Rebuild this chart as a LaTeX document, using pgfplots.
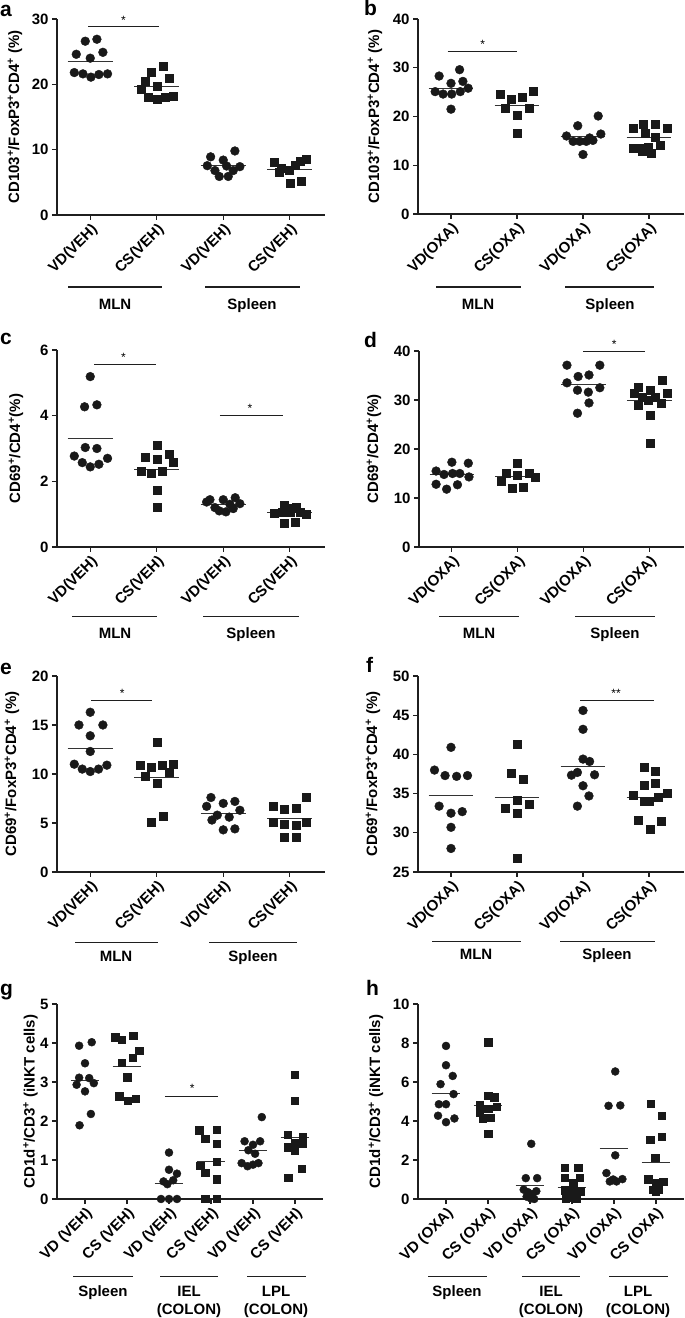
\documentclass[border=0pt]{standalone}
\usepackage{fontspec}
\setmainfont{Liberation Sans}
\usepackage{pgfplots}
\pgfplotsset{compat=1.18}
\usetikzlibrary{calc}
\newcommand{\sps}{\textsuperscript{+}}
\newcommand{\lf}{\fontsize{15}{17}\selectfont\bfseries}
\pgfplotsset{
 panel/.style={
  scale only axis, anchor=south west,
  axis x line*=bottom, axis y line*=left,
  axis line style={line width=1.3pt, black!88},
  every tick/.style={line width=1.2pt, black!88},
  major tick length=5pt, tick align=outside,
  ticklabel style={font=\lf},
  xticklabel style={rotate=45, anchor=north east, inner sep=1.5pt},
  /pgf/number format/assume math mode=true,
  ylabel style={font=\lf, anchor=center},
  clip=false,
 },
 four/.style={xtick={0,1,2,3}, xmin=-0.5, xmax=3.53},
 six/.style={xtick={0,1,2,3,4,5}, xmin=-0.667, xmax=5.667},
 vd/.style={only marks, mark=*, mark size=4.4pt, mark options={fill=black!90, draw=black!90}},
 cs/.style={only marks, mark=square*, mark size=4pt, mark options={fill=black!90, draw=black!90}},
 vds/.style={only marks, mark=*, mark size=4pt, mark options={fill=black!90, draw=black!90}},
 css/.style={only marks, mark=square*, mark size=3.7pt, mark options={fill=black!90, draw=black!90}},
 mean/.style={black!80, line width=1pt, no marks},
}
\tikzset{
 sig/.style={line width=1.2pt, black!88},
 star/.style={anchor=base, inner sep=0pt, font=\fontsize{12}{12}\selectfont},
 grp/.style={line width=1.2pt, black!88},
 gtxt/.style={anchor=base, inner sep=0pt, font=\lf},
 plab/.style={anchor=base west, inner sep=0pt, font=\fontsize{21}{21}\selectfont\bfseries},
}
\begin{document}
\begin{tikzpicture}[x=1pt,y=1pt]
\useasboundingbox (0,0) rectangle (685,1318);

% ---------------- a ----------------
\begin{axis}[panel, four, at={(57pt,1103pt)}, width=268pt, height=196pt,
 ymin=0, ymax=30, ytick={0,10,20,30},
 xticklabels={VD(VEH),CS(VEH),VD(VEH),CS(VEH)},
 ylabel={CD103\sps/FoxP3\sps CD4\sps\ (\%)},
 ylabel style={at={(axis description cs:-0.157,0.5)}}]
\addplot[vd] coordinates {(-0.21,24.6) (-0.075,26.6) (0.1,26.9) (0.19,24.9) (0,24.0) (-0.24,21.8) (-0.11,21.6) (0.01,21.1) (0.13,21.5) (0.26,21.6)};
\addplot[cs] coordinates {(1.09,22.7) (0.91,21.8) (0.82,20.5) (1.18,20.9) (1.0,19.7) (0.76,19.2) (0.875,18.1) (1.0,17.7) (1.13,18.1) (1.25,18.2)};
\addplot[vd] coordinates {(1.81,8.9) (2.0,8.4) (2.175,9.8) (1.76,7.55) (1.875,6.8) (1.94,5.9) (2.075,5.9) (2.15,6.8) (2.25,7.4) (2.05,7.5)};
\addplot[cs] coordinates {(2.77,8.1) (2.87,7.1) (2.99,6.9) (3.075,7.65) (3.16,8.2) (3.25,8.5) (2.84,6.6) (3.01,4.85) (3.17,5.1)};
\addplot[mean] coordinates {(-0.34,23.5) (0.34,23.5)};
\addplot[mean] coordinates {(0.66,19.7) (1.34,19.7)};
\addplot[mean] coordinates {(1.66,7.5) (2.34,7.5)};
\addplot[mean] coordinates {(2.66,7.0) (3.34,7.0)};
\draw[sig] (axis cs:-0.03,28.8) -- (axis cs:1.04,28.8);
\node[star] at (axis cs:0.5,29.2) {*};
\end{axis}

% ---------------- b ----------------
\begin{axis}[panel, four, at={(418pt,1104pt)}, width=266pt, height=195pt,
 ymin=0, ymax=40, ytick={0,10,20,30,40},
 xticklabels={VD(OXA),CS(OXA),VD(OXA),CS(OXA)},
 ylabel={CD103\sps/FoxP3\sps CD4\sps\ (\%)},
 ylabel style={at={(axis description cs:-0.162,0.5)}}]
\addplot[vd] coordinates {(-0.18,28.3) (0.13,29.6) (0,26.8) (0.18,27.2) (0.26,25.8) (-0.24,25.1) (-0.12,24.6) (0.01,24.6) (0.14,25.1) (0,21.5)};
\addplot[cs] coordinates {(0.74,24.5) (0.91,23.6) (1.08,24.0) (1.25,25.1) (0.82,21.8) (1.18,21.8) (1.0,20.3) (1.0,16.5)};
\addplot[vd] coordinates {(1.92,18.1) (2.23,20.1) (1.75,16.0) (2.27,16.4) (1.85,14.9) (1.95,14.9) (2.05,14.9) (2.15,15.1) (2.0,12.2) (2.1,15.6)};
\addplot[cs] coordinates {(2.76,17.7) (2.91,18.5) (3.09,18.5) (3.27,17.5) (2.94,16.6) (3.1,15.8) (2.76,13.4) (2.86,13.4) (2.98,13.8) (3.17,14.1) (3.03,12.5) (2.89,12.8)};
\addplot[mean] coordinates {(-0.34,25.8) (0.34,25.8)};
\addplot[mean] coordinates {(0.66,22.2) (1.34,22.2)};
\addplot[mean] coordinates {(1.66,15.8) (2.34,15.8)};
\addplot[mean] coordinates {(2.66,15.6) (3.34,15.6)};
\draw[sig] (axis cs:-0.05,33.4) -- (axis cs:1.0,33.4);
\node[star] at (axis cs:0.48,34.0) {*};
\end{axis}

% ---------------- c ----------------
\begin{axis}[panel, four, at={(57pt,771pt)}, width=268pt, height=197pt,
 ymin=0, ymax=6, ytick={0,2,4,6},
 xticklabels={VD(VEH),CS(VEH),VD(VEH),CS(VEH)},
 ylabel={CD69\sps/CD4\sps(\%)},
 ylabel style={at={(axis description cs:-0.153,0.5)}}]
\addplot[vd] coordinates {(0,5.19) (-0.085,4.27) (0.1,4.33) (-0.075,3.03) (0.1,3.0) (-0.24,2.77) (0.26,2.70) (-0.12,2.57) (0,2.44) (0.13,2.52)};
\addplot[cs] coordinates {(1,3.10) (0.82,2.72) (1,2.67) (1.18,2.83) (1.25,2.57) (0.76,2.32) (0.92,2.26) (1.085,2.30) (1,1.73) (1,1.21)};
\addplot[vd] coordinates {(1.8,1.44) (2,1.44) (2.18,1.50) (1.75,1.37) (2.25,1.32) (1.875,1.2) (1.94,1.1) (2.04,1.07) (2.15,1.17) (2.1,1.3)};
\addplot[cs] coordinates {(2.92,1.27) (3.1,1.22) (2.77,1.02) (2.885,1.07) (3,1.07) (3.16,1.07) (3.25,1.0) (2.92,0.73) (3.085,0.76) (3.035,1.17)};
\addplot[mean] coordinates {(-0.34,3.3) (0.34,3.3)};
\addplot[mean] coordinates {(0.66,2.37) (1.34,2.37)};
\addplot[mean] coordinates {(1.66,1.28) (2.34,1.28)};
\addplot[mean] coordinates {(2.66,1.05) (3.34,1.05)};
\draw[sig] (axis cs:0.06,5.56) -- (axis cs:0.99,5.56);
\node[star] at (axis cs:0.5,5.66) {*};
\draw[sig] (axis cs:1.95,4.0) -- (axis cs:2.9,4.0);
\node[star] at (axis cs:2.4,4.1) {*};
\end{axis}

% ---------------- d ----------------
\begin{axis}[panel, four, at={(419pt,771pt)}, width=265pt, height=196pt,
 ymin=0, ymax=40, ytick={0,10,20,30,40},
 xticklabels={VD(OXA),CS(OXA),VD(OXA),CS(OXA)},
 ylabel={CD69\sps/CD4\sps(\%)},
 ylabel style={at={(axis description cs:-0.17,0.5)}}]
\addplot[vd] coordinates {(0,17.3) (0.25,17.1) (-0.24,15.5) (-0.12,14.8) (0.01,15.0) (0.12,15.0) (-0.24,12.8) (-0.08,11.8) (0.085,12.7) (0.26,14.3)};
\addplot[cs] coordinates {(1,17.1) (0.82,15.0) (1,14.6) (1.18,15.0) (0.75,13.5) (1.26,14.3) (0.915,11.9) (1.085,12.2)};
\addplot[vd] coordinates {(1.75,37.1) (2.25,37.1) (1.92,34.8) (2.085,35.1) (1.75,33.5) (1.91,32.0) (2.075,31.6) (2.25,32.5) (2.085,29.4) (1.91,27.3)};
\addplot[cs] coordinates {(3.2,34.0) (2.83,32.7) (3.02,32.0) (2.78,31.3) (3.27,31.3) (2.89,30.6) (3.09,30.6) (2.83,28.9) (3.19,29.3) (3.02,26.9) (3.02,21.1) (2.98,29.9)};
\addplot[mean] coordinates {(-0.34,14.7) (0.34,14.7)};
\addplot[mean] coordinates {(0.66,14.3) (1.34,14.3)};
\addplot[mean] coordinates {(1.66,33.1) (2.34,33.1)};
\addplot[mean] coordinates {(2.66,29.8) (3.34,29.8)};
\draw[sig] (axis cs:2.0,39.85) -- (axis cs:2.93,39.85);
\node[star] at (axis cs:2.47,40.5) {*};
\end{axis}

% ---------------- e ----------------
\begin{axis}[panel, four, at={(57pt,446pt)}, width=268pt, height=196pt,
 ymin=0, ymax=20, ytick={0,5,10,15,20},
 xticklabels={VD(VEH),CS(VEH),VD(VEH),CS(VEH)},
 ylabel={CD69\sps/FoxP3\sps CD4\sps\ (\%)},
 ylabel style={at={(axis description cs:-0.168,0.5)}}]
\addplot[vd] coordinates {(0,16.3) (-0.17,15.0) (0.19,15.0) (0,13.9) (0,12.3) (-0.24,11.0) (0.25,10.9) (-0.12,10.5) (0,10.25) (0.125,10.5)};
\addplot[cs] coordinates {(1,13.2) (0.75,10.9) (0.91,10.7) (1.085,10.9) (1.25,11.0) (1.18,10.15) (0.82,9.75) (1,9.07) (1.09,5.67) (0.91,5.1)};
\addplot[vd] coordinates {(1.815,7.6) (2,7.0) (2.175,7.2) (1.75,6.7) (2.25,6.3) (1.91,5.8) (2.09,5.6) (1.83,5.3) (2,4.3) (2.175,4.4)};
\addplot[cs] coordinates {(3.25,7.6) (2.75,6.75) (2.92,6.4) (3.09,6.55) (2.75,5.1) (2.92,4.9) (3.09,4.75) (3.25,5.05) (2.92,3.5) (3.09,3.6)};
\addplot[mean] coordinates {(-0.34,12.6) (0.34,12.6)};
\addplot[mean] coordinates {(0.66,9.65) (1.34,9.65)};
\addplot[mean] coordinates {(1.66,6.0) (2.34,6.0)};
\addplot[mean] coordinates {(2.66,5.43) (3.34,5.43)};
\draw[sig] (axis cs:0.015,17.5) -- (axis cs:0.93,17.5);
\node[star] at (axis cs:0.48,17.8) {*};
\end{axis}

% ---------------- f ----------------
\begin{axis}[panel, four, at={(418pt,446pt)}, width=266pt, height=196pt,
 ymin=25, ymax=50, ytick={25,30,35,40,45,50},
 xticklabels={VD(OXA),CS(OXA),VD(OXA),CS(OXA)},
 ylabel={CD69\sps/FoxP3\sps CD4\sps\ (\%)},
 ylabel style={at={(axis description cs:-0.169,0.5)}}]
\addplot[vd] coordinates {(0,40.9) (-0.25,38.0) (-0.09,37.3) (0.085,37.2) (0.25,37.3) (-0.18,33.4) (0,32.5) (0.17,32.7) (0,30.7) (0,28.0)};
\addplot[cs] coordinates {(1,41.3) (0.915,37.6) (1.09,36.8) (1,34.2) (0.82,33.1) (1.18,33.7) (1,32.5) (1,26.7)};
\addplot[vd] coordinates {(2,45.6) (2,43.2) (2,39.4) (2.1,39.1) (1.825,37.35) (1.915,37.7) (2.175,37.4) (2,36.0) (2.09,34.7) (1.915,33.4)};
\addplot[cs] coordinates {(2.92,38.4) (3.09,37.9) (2.92,36.1) (3.09,36.3) (2.76,34.8) (3.27,35.0) (2.92,34.0) (3.0,34.0) (3.14,34.6) (2.84,31.6) (3.19,31.5) (3.02,30.5)};
\addplot[mean] coordinates {(-0.34,34.8) (0.34,34.8)};
\addplot[mean] coordinates {(0.66,34.55) (1.34,34.55)};
\addplot[mean] coordinates {(1.66,38.4) (2.34,38.4)};
\addplot[mean] coordinates {(2.66,34.55) (3.34,34.55)};
\draw[sig] (axis cs:1.96,46.85) -- (axis cs:3.08,46.85);
\node[star] at (axis cs:2.5,47.2) {**};
\end{axis}

% ---------------- g ----------------
\begin{axis}[panel, six, at={(57pt,119pt)}, width=266pt, height=195pt,
 ymin=0, ymax=5, ytick={0,1,2,3,4,5},
 xticklabels={VD (VEH),CS (VEH),VD (VEH),CS (VEH),VD (VEH),CS (VEH)},
 ylabel={CD1d\sps/CD3\sps\ (iNKT cells)},
 ylabel style={at={(axis description cs:-0.10,0.5)}}]
\addplot[vds] coordinates {(-0.14,3.93) (0.16,4.02) (0,3.48) (-0.14,3.11) (0.1,3.10) (-0.2,2.93) (0.21,2.97) (0,2.76) (0.14,2.18) (-0.13,1.89)};
\addplot[css] coordinates {(0.72,4.15) (0.87,4.08) (1.15,4.18) (1.29,3.80) (1.13,3.63) (0.87,3.50) (1.0,3.12) (0.81,2.64) (1.01,2.52) (1.2,2.57)};
\addplot[vds] coordinates {(1.87,0.45) (1.96,0.38) (2.1,0.48) (2.19,0.65) (2,0.75) (2,1.19) (1.81,0) (2,0) (2.19,0)};
\addplot[css] coordinates {(2.72,1.76) (3.13,1.78) (2.86,1.54) (3.13,1.42) (2.74,0.85) (3.13,0.95) (2.86,0.68) (3.13,0.51) (2.86,0) (3.13,0)};
\addplot[vds] coordinates {(4.21,2.1) (3.8,1.48) (4.0,1.39) (4.17,1.48) (3.89,1.25) (3.73,0.92) (3.87,0.84) (4.0,0.88) (4.13,0.92) (4.05,1.16)};
\addplot[css] coordinates {(5.0,3.18) (5.0,2.52) (4.82,1.65) (5.18,1.6) (4.82,1.33) (5.0,1.43) (5.18,1.43) (5.0,1.24) (5.16,0.78) (4.84,0.54)};
\addplot[mean] coordinates {(-0.34,3.05) (0.34,3.05)};
\addplot[mean] coordinates {(0.66,3.41) (1.34,3.41)};
\addplot[mean] coordinates {(1.66,0.41) (2.34,0.41)};
\addplot[mean] coordinates {(2.66,0.95) (3.34,0.95)};
\addplot[mean] coordinates {(3.66,1.25) (4.34,1.25)};
\addplot[mean] coordinates {(4.66,1.58) (5.34,1.58)};
\draw[sig] (axis cs:1.9,2.63) -- (axis cs:3.17,2.63);
\node[star] at (axis cs:2.55,2.72) {*};
\end{axis}

% ---------------- h ----------------
\begin{axis}[panel, six, at={(418pt,119pt)}, width=266pt, height=195pt,
 ymin=0, ymax=10, ytick={0,2,4,6,8,10},
 xticklabels={VD (OXA),CS (OXA),VD (OXA),CS (OXA),VD (OXA),CS (OXA)},
 ylabel={CD1d\sps/CD3\sps\ (iNKT cells)},
 ylabel style={at={(axis description cs:-0.158,0.5)}}]
\addplot[vds] coordinates {(0,7.85) (0,6.86) (-0.13,5.89) (0.16,6.31) (0.18,5.38) (-0.17,4.86) (0,4.86) (-0.19,4.27) (0,3.94) (0.2,4.13)};
\addplot[css] coordinates {(1,8.04) (0.8,4.81) (1,5.3) (1.15,5.22) (0.8,4.44) (1,4.62) (1.2,4.74) (0.87,4.15) (1.07,4.18) (1,3.36)};
\addplot[vds] coordinates {(2.03,2.83) (1.9,1.07) (2.17,1.07) (1.85,0.48) (1.95,0.35) (2.05,0.25) (2.15,0.4) (1.92,0.12) (2.02,0.03) (2.1,0.0)};
\addplot[css] coordinates {(2.83,1.6) (3.15,1.6) (2.83,1.1) (3.19,1.1) (3.03,0.8) (2.83,0.45) (3.03,0.35) (3.2,0.4) (2.95,0.1) (3.1,0.05) (2.85,0.02)};
\addplot[vds] coordinates {(4.03,6.54) (3.87,4.78) (4.15,4.8) (4.03,2.24) (3.82,1.33) (3.9,0.9) (4.06,0.9) (4.2,1.02) (3.98,1.0)};
\addplot[css] coordinates {(4.87,4.88) (5.14,4.27) (5.13,3.21) (4.86,3.04) (4.98,2.13) (4.81,1.02) (5.17,0.9) (5.0,0.82) (4.92,0.48) (5.05,0.48) (5.0,0.4)};
\addplot[mean] coordinates {(-0.34,5.43) (0.34,5.43)};
\addplot[mean] coordinates {(0.66,4.8) (1.34,4.8)};
\addplot[mean] coordinates {(1.66,0.68) (2.34,0.68)};
\addplot[mean] coordinates {(2.66,0.6) (3.34,0.6)};
\addplot[mean] coordinates {(3.66,2.61) (4.34,2.61)};
\addplot[mean] coordinates {(4.66,1.88) (5.34,1.88)};
\end{axis}

% ---------------- group labels ----------------
\draw[grp] (68,1031) -- (162,1031); \node[gtxt] at (115,1008) {MLN};
\draw[grp] (205,1031) -- (300,1031); \node[gtxt] at (252,1008) {Spleen};
\draw[grp] (436,1031) -- (521,1031); \node[gtxt] at (478,1008) {MLN};
\draw[grp] (565,1031) -- (654,1031); \node[gtxt] at (610,1008) {Spleen};
\draw[grp] (72,701.3) -- (157,701.3); \node[gtxt] at (115,679.7) {MLN};
\draw[grp] (203,701.3) -- (299,701.3); \node[gtxt] at (251,679.7) {Spleen};
\draw[grp] (439,701.3) -- (519,701.3); \node[gtxt] at (479,679.7) {MLN};
\draw[grp] (575,701.3) -- (655,701.3); \node[gtxt] at (615,679.7) {Spleen};
\draw[grp] (75,375.3) -- (158,375.3); \node[gtxt] at (116,356.3) {MLN};
\draw[grp] (209,375.3) -- (297,375.3); \node[gtxt] at (253,356.3) {Spleen};
\draw[grp] (432,376.3) -- (521,376.3); \node[gtxt] at (476,358) {MLN};
\draw[grp] (560,376.3) -- (655,376.3); \node[gtxt] at (607,358) {Spleen};
\draw[grp] (73,41.3) -- (133,41.3); \node[gtxt] at (103,21.3) {Spleen};
\draw[grp] (160,41.3) -- (218,41.3); \node[gtxt] at (189,21.3) {IEL}; \node[gtxt] at (189,4) {(COLON)};
\draw[grp] (247,41.3) -- (306,41.3); \node[gtxt] at (276,21.3) {LPL}; \node[gtxt] at (276,4) {(COLON)};
\draw[grp] (428,41.3) -- (487,41.3); \node[gtxt] at (457,21.3) {Spleen};
\draw[grp] (522,41.3) -- (580,41.3); \node[gtxt] at (551,21.3) {IEL}; \node[gtxt] at (551,4) {(COLON)};
\draw[grp] (609,41.3) -- (668,41.3); \node[gtxt] at (638,21.3) {LPL}; \node[gtxt] at (638,4) {(COLON)};

% ---------------- panel letters ----------------
\node[plab] at (0,1301) {a};
\node[plab] at (364,1302) {b};
\node[plab] at (0,973) {c};
\node[plab] at (364,970) {d};
\node[plab] at (0,643) {e};
\node[plab] at (366,645) {f};
\node[plab] at (0,322) {g};
\node[plab] at (366,322) {h};
\end{tikzpicture}
\end{document}
